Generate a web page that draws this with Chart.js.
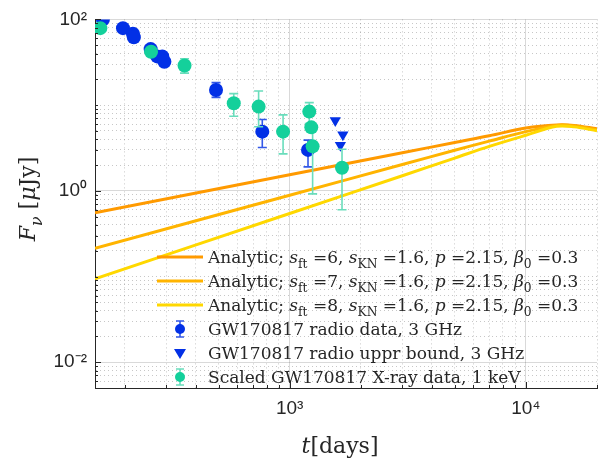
<!DOCTYPE html>
<html>
<head>
<meta charset="utf-8">
<script src="https://cdn.jsdelivr.net/npm/chart.js@4.4.0/dist/chart.umd.min.js"></script>
<style>
html,body{margin:0;padding:0;background:#fff}
#wrap{width:612px;height:465px;position:relative}
</style>
</head>
<body>
<div id="wrap"><canvas id="graph"></canvas></div>
<script>
// analytic curves (days, flux in uJy)
const modelDays = [150, 1000, 3000, 5000, 7000, 10000, 13500, 16000, 20000];
const model6 = [0.553, 1.54, 2.78, 3.66, 4.38, 5.4, 5.87, 5.8, 5.29];
const model7 = [0.214, 0.887, 2.03, 2.97, 3.8, 4.9, 5.8, 5.72, 5.15];
const model8 = [0.094, 0.544, 1.50, 2.41, 3.3, 4.45, 5.65, 5.57, 5.01];

// radio 3 GHz
const radioDays = [162, 197, 217, 219, 258, 275, 289, 295, 488, 766, 1196];
const radioFlux = [100, 79, 68, 62, 45, 37, 37, 32, 15.0, 4.9, 3.0];
const radioLo = [null, null, null, null, null, null, null, null, 12.3, 3.2, 1.9];
const radioHi = [null, null, null, null, null, null, null, null, 18.3, 6.8, 3.9];

// radio upper bounds
const boundDays = [1560, 1640, 1680];
const boundFlux = [6.6, 3.4, 4.5];

// scaled X-ray, 1 keV
const xrayDays = [158, 259, 359, 580, 739, 938, 1211, 1235, 1251, 1666];
const xrayFlux = [79, 42, 29, 10.5, 9.6, 4.9, 8.4, 5.5, 3.3, 1.86];
const xrayLo = [null, null, 23.6, 7.4, 5.6, 2.7, 6.1, null, 0.92, 0.60];
const xrayHi = [null, null, 34.8, 13.6, 14.6, 7.7, 10.7, null, 5.7, 3.05];

const xTicks = [200,300,400,500,600,700,800,900,1000,2000,3000,4000,5000,6000,7000,8000,9000,10000,20000];
const xMajor = [1000, 10000];
const yTicks = [];
[0.001,0.01,0.1,1,10].forEach(d=>{ for(let m=1;m<10;m++){ const v=+(d*m).toPrecision(3); if(v>=0.005) yTicks.push(v);} });
yTicks.push(100);
const yMajor = [0.01, 1, 100];

const cOrange1 = '#FF9A00', cOrange2 = '#FFB400', cYellow = '#FFD800';
const cBlue = '#0230E6', cBlueBar = '#3358E8';
const cGreen = '#14D09B', cGreenBar = '#6ADDBC';
const serif = '"DejaVu Serif", serif';
const sans = '"Liberation Sans", Arial, sans-serif';

const sup = {'0':'⁰','1':'¹','2':'²','3':'³','4':'⁴','-':'⁻'};
function near(v, list){ return list.some(m=>Math.abs(v/m-1)<1e-6); }
function tickLabel(v, list){
  if(!near(v, list)) return '';
  return '10' + String(Math.round(Math.log10(v))).split('').map(c=>sup[c]).join('');
}
function toPts(xs, ys){ return xs.map((x,i)=>({x:x, y:ys[i]})); }

function drawRich(ctx, x, y, parts, size){
  parts.forEach(p=>{
    const s = p.sub ? size*0.72 : size;
    ctx.font = (p.it ? 'italic ' : '') + s + 'px ' + serif;
    ctx.fillText(p.t, x, y + (p.sub ? size*0.32 : 0));
    x += ctx.measureText(p.t).width;
  });
  return x;
}
function richWidth(ctx, parts, size){
  let w = 0;
  parts.forEach(p=>{
    const s = p.sub ? size*0.72 : size;
    ctx.font = (p.it ? 'italic ' : '') + s + 'px ' + serif;
    w += ctx.measureText(p.t).width;
  });
  return w;
}
function analyticParts(n){
  return [{t:'Analytic; '},{t:'s',it:true},{t:'ft',sub:true},{t:' ='+n+', '},
    {t:'s',it:true},{t:'KN',sub:true},{t:' =1.6, '},{t:'p',it:true},{t:' =2.15, '},
    {t:'β',it:true},{t:'0',sub:true},{t:' =0.3'}];
}

// error bars drawn just before each data set's markers
const errorBars = {
  id:'errorBars',
  beforeDatasetDraw(chart, args){
    const ds = chart.data.datasets[args.index];
    if(!ds.errLo) return;
    const ctx = chart.ctx, xs = chart.scales.x, ys = chart.scales.y;
    ctx.save();
    ctx.strokeStyle = ds.errColor;
    ctx.lineWidth = 1.6;
    ds.data.forEach((p,i)=>{
      if(ds.errLo[i]==null) return;
      const px = xs.getPixelForValue(p.x);
      const y1 = ys.getPixelForValue(ds.errLo[i]), y2 = ys.getPixelForValue(ds.errHi[i]);
      ctx.beginPath();
      ctx.moveTo(px, y1); ctx.lineTo(px, y2);
      ctx.moveTo(px-4.5, y1); ctx.lineTo(px+4.5, y1);
      ctx.moveTo(px-4.5, y2); ctx.lineTo(px+4.5, y2);
      ctx.stroke();
    });
    ctx.restore();
  }
};

// inward tick marks, axis titles and legend
const decor = {
  id:'decor',
  afterDraw(chart){
    const ctx = chart.ctx, a = chart.chartArea, xs = chart.scales.x, ys = chart.scales.y;
    ctx.save();
    ctx.strokeStyle = '#262626';
    ctx.lineWidth = 1;
    ctx.beginPath();
    xs.ticks.forEach(t=>{
      const px = Math.round(xs.getPixelForValue(t.value))+0.5;
      const len = near(t.value, xMajor) ? 6 : 3;
      ctx.moveTo(px, a.bottom); ctx.lineTo(px, a.bottom-len);
    });
    ys.ticks.forEach(t=>{
      const py = Math.round(ys.getPixelForValue(t.value))+0.5;
      const len = near(t.value, yMajor) ? 6 : 3;
      ctx.moveTo(a.left, py); ctx.lineTo(a.left+len, py);
    });
    ctx.stroke();

    ctx.fillStyle = '#262626';
    ctx.textBaseline = 'alphabetic';
    // x title
    const xt = [{t:'t',it:true},{t:'[days]'}];
    const xw = richWidth(ctx, xt, 22);
    drawRich(ctx, 340 - xw/2, 453, xt, 22);
    // y title
    const yt = [{t:'F',it:true},{t:'ν',it:true,sub:true},{t:' ['},{t:'μ',it:true},{t:'Jy]'}];
    const yw = richWidth(ctx, yt, 22);
    ctx.save();
    ctx.translate(35, 199);
    ctx.rotate(-Math.PI/2);
    drawRich(ctx, -yw/2, 0, yt, 22);
    ctx.restore();

    // legend
    const rows = [
      {kind:'line', color:cOrange1, parts:analyticParts(6), y:257},
      {kind:'line', color:cOrange2, parts:analyticParts(7), y:281},
      {kind:'line', color:cYellow, parts:analyticParts(8), y:305},
      {kind:'err', color:cBlue, bar:cBlueBar, parts:[{t:'GW170817 radio data, 3 GHz'}], y:329},
      {kind:'tri', color:cBlue, parts:[{t:'GW170817 radio uppr bound, 3 GHz'}], y:353},
      {kind:'err', color:cGreen, bar:cGreenBar, parts:[{t:'Scaled GW170817 X-ray data, 1 keV'}], y:377}
    ];
    rows.forEach(r=>{
      ctx.save();
      if(r.kind==='line'){
        ctx.strokeStyle = r.color; ctx.lineWidth = 3;
        ctx.beginPath(); ctx.moveTo(157, r.y); ctx.lineTo(203, r.y); ctx.stroke();
      } else if(r.kind==='err'){
        ctx.strokeStyle = r.bar; ctx.lineWidth = 1.6;
        ctx.beginPath();
        ctx.moveTo(180, r.y-8); ctx.lineTo(180, r.y+8);
        ctx.moveTo(176, r.y-8); ctx.lineTo(184, r.y-8);
        ctx.moveTo(176, r.y+8); ctx.lineTo(184, r.y+8);
        ctx.stroke();
        ctx.fillStyle = r.color;
        ctx.beginPath(); ctx.arc(180, r.y, 5, 0, Math.PI*2); ctx.fill();
      } else {
        ctx.fillStyle = r.color;
        ctx.beginPath(); ctx.moveTo(174, r.y-4); ctx.lineTo(186, r.y-4); ctx.lineTo(180, r.y+6); ctx.closePath(); ctx.fill();
      }
      ctx.restore();
      ctx.fillStyle = '#262626';
      drawRich(ctx, 208, r.y+6, r.parts, 17);
    });
    ctx.restore();
  }
};

const lineBase = {borderWidth:3, pointRadius:0, tension:0.35, fill:false};
const graph = document.getElementById('graph');
new Chart(graph, {
  type:'line',
  data:{
    datasets:[
      Object.assign({label:'s_ft=6', data:toPts(modelDays, model6), borderColor:cOrange1, order:5}, lineBase),
      Object.assign({label:'s_ft=7', data:toPts(modelDays, model7), borderColor:cOrange2, order:4}, lineBase),
      Object.assign({label:'s_ft=8', data:toPts(modelDays, model8), borderColor:cYellow, order:3}, lineBase),
      {label:'radio', data:toPts(radioDays, radioFlux), showLine:false, pointRadius:7, pointBackgroundColor:cBlue, pointBorderWidth:0,
        errLo:radioLo, errHi:radioHi, errColor:cBlueBar, order:2},
      {label:'bound', data:toPts(boundDays, boundFlux), showLine:false, pointStyle:'triangle', pointRotation:180, pointRadius:6.5,
        pointBackgroundColor:cBlue, pointBorderWidth:0, order:1},
      {label:'xray', data:toPts(xrayDays, xrayFlux), showLine:false, pointRadius:7, pointBackgroundColor:cGreen, pointBorderWidth:0,
        errLo:xrayLo, errHi:xrayHi, errColor:cGreenBar, order:0}
    ]
  },
  options:{
    responsive:true,
    maintainAspectRatio:false,
    animation:false,
    devicePixelRatio:1,
    layout:{padding:{top:13, right:15, left:0, bottom:0}},
    plugins:{legend:{display:false}, tooltip:{enabled:false}},
    scales:{
      x:{
        type:'logarithmic', min:150, max:20000,
        afterBuildTicks: s => { s.ticks = xTicks.map(v=>({value:v})); },
        afterFit: s => { s.height = 77; },
        ticks:{autoSkip:false, maxRotation:0, padding:9, color:'#262626', font:{family:sans, size:19}, callback:v=>tickLabel(v, xMajor)},
        grid:{drawTicks:false, lineWidth:1, color: c => (c.tick && near(c.tick.value, xMajor)) ? 'rgba(0,0,0,0.15)' : 'rgba(0,0,0,0.22)'},
        border:{display:true, color:'#262626', width:1, dash: c => (c.tick && !near(c.tick.value, xMajor)) ? [1,3] : []}
      },
      y:{
        type:'logarithmic', min:0.005, max:100,
        afterBuildTicks: s => { s.ticks = yTicks.map(v=>({value:v})); },
        afterFit: s => { s.width = 95; },
        ticks:{autoSkip:false, padding:8, color:'#262626', font:{family:sans, size:19}, callback:v=>tickLabel(v, yMajor)},
        grid:{drawTicks:false, lineWidth:1, color: c => (c.tick && near(c.tick.value, yMajor)) ? 'rgba(0,0,0,0.15)' : 'rgba(0,0,0,0.22)'},
        border:{display:true, color:'#262626', width:1, dash: c => (c.tick && !near(c.tick.value, yMajor)) ? [1,3] : []}
      }
    }
  },
  plugins:[errorBars, decor]
});
</script>
</body>
</html>
